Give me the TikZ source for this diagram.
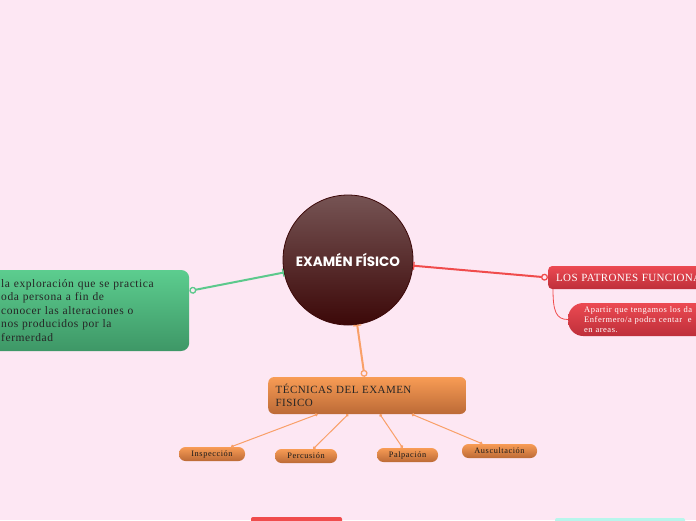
\documentclass[tikz,border=0pt]{standalone}
\usepackage{fontspec}
\setmainfont{Liberation Serif}
\newfontfamily\titlefont{Poppins}
\usetikzlibrary{arrows.meta}

\definecolor{bgpink}{HTML}{FDE7F3}
\definecolor{coretop}{HTML}{765454}
\definecolor{corebot}{HTML}{3C0808}
\definecolor{greentop}{HTML}{5CCD8F}
\definecolor{greenbot}{HTML}{3E9766}
\definecolor{greenline}{HTML}{5CC98C}
\definecolor{redtop}{HTML}{EC4A52}
\definecolor{redbot}{HTML}{BE2F3A}
\definecolor{redline}{HTML}{F04C4C}
\definecolor{orangetop}{HTML}{F89C55}
\definecolor{orangebot}{HTML}{BC6A36}
\definecolor{orangeline}{HTML}{F9A068}
\definecolor{mintbox}{HTML}{B8F6EC}

\begin{document}
\begin{tikzpicture}[x=1pt, y=-1pt,
  topic/.style={rectangle, rounded corners=8pt, anchor=west, align=left, inner ysep=0pt},
  leaf/.style={rectangle, rounded corners=6.5pt, top color=orangetop, bottom color=orangebot,
    minimum height=14pt, inner xsep=0pt, inner ysep=0pt, text=black!90,
    font=\fontsize{8.3}{9}\selectfont\addfontfeatures{LetterSpace=7}},
  link/.style={line width=2pt},
  ends/.style={{Bar[width=8pt,line width=1.3pt]}-{Circle[open,length=7pt,line width=1.3pt]}},
  twig/.style={line width=1pt, draw=orangeline, {Circle[length=3pt]}-{Circle[length=3pt]}}]

  % Background and frame
  \fill[bgpink] (0,0) rectangle (696,520);
  \useasboundingbox (0,0) rectangle (696,520);
  \clip (0,0) rectangle (696,520);

  % Central topic
  \node[circle, minimum size=130pt, top color=coretop, bottom color=corebot, draw=corebot,
    line width=0.8pt, text=white, font=\titlefont\bfseries\fontsize{13.5}{15}\selectfont]
    (exam) at (348,260) {EXAMÉN FÍSICO};

  % Left branch: definition
  \node[topic, text width=175pt, inner xsep=13pt, minimum height=81pt, top color=greentop,
    bottom color=greenbot, text=black!85, font=\fontsize{11.5}{13.5}\selectfont\addfontfeatures{LetterSpace=5}]
    (def) at (-12,310.5) {la exploración que se practica\\oda persona a fin de\\conocer las alteraciones o\\nos producidos por la\\fermerdad};

  % Right branch: functional patterns
  \node[topic, text width=164pt, inner xsep=8pt, minimum height=23pt, top color=redtop,
    bottom color=redbot, text=white, rounded corners=4pt, font=\fontsize{11}{13}\selectfont\addfontfeatures{LetterSpace=3}]
    (patterns) at (548,277.5) {LOS PATRONES FUNCIONA};
  \node[topic, text width=140pt, inner xsep=16pt, minimum height=33pt, top color=redtop,
    bottom color=redbot, text=white, rounded corners=15pt, font=\fontsize{8.5}{10}\selectfont\addfontfeatures{LetterSpace=6}]
    (patternsnote) at (568,319.5) {Apartir que tengamos los da\\Enfermero/a podra centar\ \ e\\en areas.};

  % Lower branch: techniques
  \node[topic, text width=183pt, inner xsep=7.5pt, minimum height=37pt, top color=orangetop,
    bottom color=orangebot, text=black!85, rounded corners=6pt, font=\fontsize{11}{13.5}\selectfont\addfontfeatures{LetterSpace=4}]
    (tecnicas) at (268,395.5) {TÉCNICAS DEL EXAMEN\\FISICO};
  \node[leaf, minimum width=66pt] (insp) at (212,454) {Inspección};
  \node[leaf, minimum width=62pt] (perc) at (306,456) {Percusión};
  \node[leaf, minimum width=61pt] (palp) at (407.5,455) {Palpación};
  \node[leaf, minimum width=75pt] (ausc) at (499.5,451) {Auscultación};

  % Connectors
  \draw[link, greenline, ends] (exam) -- (def);
  \draw[link, redline, ends] (exam) -- (patterns.west);
  \draw[link, orangeline, ends] (exam) -- (tecnicas);
  \draw[redline, line width=0.8pt] ([xshift=5pt]patterns.south west) .. controls +(0,22) and +(-12,0) .. (patternsnote.west);
  \foreach \leafname in {insp, perc, palp, ausc}
    \draw[twig] (tecnicas) -- (\leafname);

  % Partly visible boxes at the bottom edge
  \fill[redline, rounded corners=2pt] (251,517) rectangle (342,530);
  \fill[mintbox, rounded corners=2pt] (555,518) rectangle (685,530);
\end{tikzpicture}
\end{document}
